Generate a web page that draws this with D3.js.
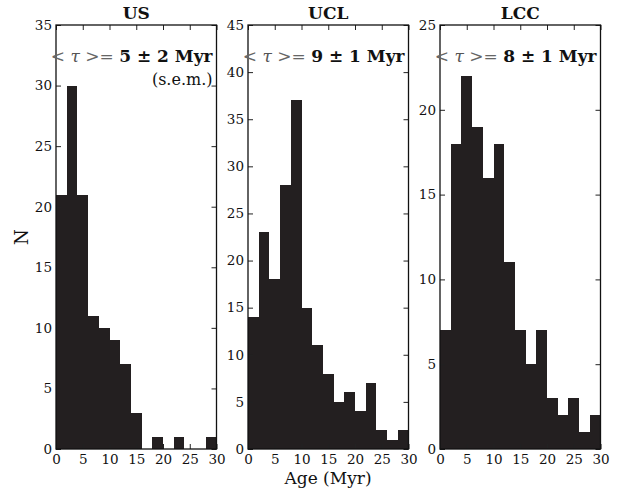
<!DOCTYPE html>
<html>
<head>
<meta charset="utf-8">
<script src="https://cdn.jsdelivr.net/npm/d3@7"></script>
<style>
  body { margin: 0; background: #fff; }
  svg text { font-family: "DejaVu Serif", serif; fill: #111; }
</style>
</head>
<body>
<svg id="chart" width="624" height="491"></svg>
<script>
// bin edges (Myr), 2 Myr wide
const binStarts = [0, 2, 4, 6, 8, 10, 12, 14, 16, 18, 20, 22, 24, 26, 28];
const binWidth = 2;

// counts per bin
const usCounts  = [21, 30, 21, 11, 10, 9, 7, 3, 0, 1, 0, 1, 0, 0, 1];
const uclCounts = [14, 23, 18, 28, 37, 15, 11, 8, 5, 6, 4, 7, 2, 1, 2];
const lccCounts = [7, 18, 22, 19, 16, 18, 11, 7, 5, 7, 3, 2, 3, 1, 2];

const panelNames = ['US', 'UCL', 'LCC'];
const yMaxes = [35, 45, 25];
const meanVals = ['5 \u00b1 2 Myr', '9 \u00b1 1 Myr', '8 \u00b1 1 Myr'];
const xTicks = [0, 5, 10, 15, 20, 25, 30];

const svg = d3.select('#chart');
const plotTop = 25, plotBottom = 449;
const lefts = [56, 248, 440];
const pw = 160.5;
const barColor = '#231f20';

const allCounts = [usCounts, uclCounts, lccCounts];

allCounts.forEach((counts, i) => {
  const x0 = lefts[i];
  const x = d3.scaleLinear().domain([0, 30]).range([x0, x0 + pw]);
  const y = d3.scaleLinear().domain([0, yMaxes[i]]).range([plotBottom, plotTop]);
  const g = svg.append('g');

  // bars
  g.selectAll('rect.bar')
    .data(binStarts.map((b, k) => ({ b: b, n: counts[k] })))
    .enter().append('rect')
    .attr('class', 'bar')
    .attr('x', d => x(d.b))
    .attr('width', d => x(d.b + binWidth) - x(d.b))
    .attr('y', d => y(d.n))
    .attr('height', d => plotBottom - y(d.n))
    .attr('fill', barColor)
    .attr('shape-rendering', 'crispEdges');

  // axes, ticks pointing inward
  const yTicks = d3.range(0, yMaxes[i] + 1, 5);
  g.append('g').attr('class', 'yax').attr('transform', `translate(${x0},0)`)
    .call(d3.axisLeft(y).tickValues(yTicks).tickSize(-5).tickPadding(4).tickFormat(d3.format('d')));
  g.append('g').attr('transform', `translate(${x0 + pw},0)`)
    .call(d3.axisRight(y).tickValues(yTicks).tickSize(-5).tickFormat(''));
  g.append('g').attr('class', 'xax').attr('transform', `translate(0,${plotBottom})`)
    .call(d3.axisBottom(x).tickValues(xTicks).tickSize(-5).tickPadding(2).tickFormat(d3.format('d')));
  g.append('g').attr('transform', `translate(0,${plotTop})`)
    .call(d3.axisTop(x).tickValues(xTicks).tickSize(-5).tickFormat(''));

  g.selectAll('.domain').remove();
  g.selectAll('.tick line').attr('stroke', '#222');
  g.selectAll('.tick text').attr('font-size', 13.5).attr('fill', '#111');
  g.selectAll('.xax .tick text').attr('y', 5).attr('dy', '0.71em');

  // frame
  g.append('rect')
    .attr('x', x0).attr('y', plotTop)
    .attr('width', pw).attr('height', plotBottom - plotTop)
    .attr('fill', 'none').attr('stroke', '#111').attr('stroke-width', 1.3);

  // title
  g.append('text')
    .attr('x', x0 + pw / 2).attr('y', 19)
    .attr('text-anchor', 'middle')
    .attr('font-size', 17).attr('font-weight', 'bold')
    .text(panelNames[i]);

  // mean age annotation
  const t = g.append('text')
    .attr('x', x0 + pw - 4).attr('y', 62)
    .attr('text-anchor', 'end')
    .attr('font-size', 17);
  t.append('tspan').attr('fill', '#666').text('< ');
  t.append('tspan').attr('font-style', 'italic').attr('fill', '#555').text('\u03c4');
  t.append('tspan').attr('fill', '#666').text(' >= ');
  t.append('tspan').attr('font-weight', 'bold').text(meanVals[i]);

  if (i === 0) {
    g.append('text')
      .attr('x', x0 + pw - 4).attr('y', 85)
      .attr('text-anchor', 'end')
      .attr('font-size', 16)
      .text('(s.e.m.)');
  }
});

// axis titles
svg.append('text')
  .attr('transform', 'translate(28,237) rotate(-90)')
  .attr('text-anchor', 'middle')
  .attr('font-size', 18)
  .text('N');

svg.append('text')
  .attr('x', 328).attr('y', 484)
  .attr('text-anchor', 'middle')
  .attr('font-size', 17)
  .text('Age (Myr)');
</script>
</body>
</html>
